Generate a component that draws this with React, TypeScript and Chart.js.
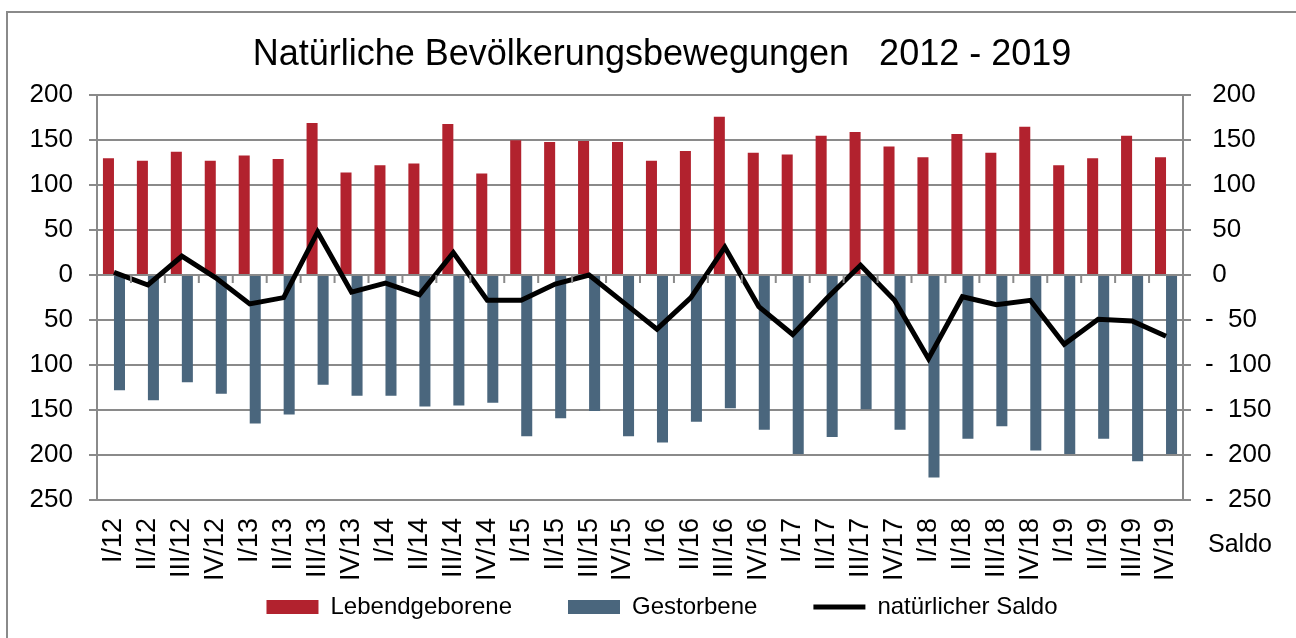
import React, { useEffect, useRef } from "react";
import { Chart, registerables } from "chart.js";

Chart.register(...registerables);

const quarters = ["I", "II", "III", "IV"];
const years = ["12", "13", "14", "15", "16", "17", "18", "19"];
const categories: string[] = [];
for (const y of years) for (const q of quarters) categories.push(`${q}/${y}`);

const lebendgeborene = [130, 127, 137, 127, 133, 129, 169, 114, 122, 124, 168, 113, 150, 148, 149, 148, 127, 138, 176, 136, 134, 155, 159, 143, 131, 157, 136, 165, 122, 130, 155, 131];
const gestorbene = [-128, -139, -119, -132, -165, -155, -122, -134, -134, -146, -145, -142, -179, -159, -151, -179, -186, -163, -148, -172, -199, -180, -149, -172, -225, -182, -168, -195, -199, -182, -207, -199];
const saldo = [3, -11, 21, -3, -32, -25, 48, -19, -9, -22, 25, -28, -28, -10, 0, -30, -60, -25, 31, -35, -66, -26, 11, -28, -93, -24, -33, -28, -77, -49, -51, -68];

const titleText = "Natürliche Bevölkerungsbewegungen   2012 - 2019";
const rightAxisTitle = "Saldo";

const RED = "#B2222E";
const BLUE = "#4A667D";
const GRID = "#8a8a8a";
const FONT = "'Liberation Sans', Arial, sans-serif";

const decorPlugin = {
  id: "decor",
  beforeDraw(chart: any) {
    const ctx = chart.ctx;
    ctx.save();
    ctx.strokeStyle = GRID;
    ctx.lineWidth = 2;
    ctx.beginPath();
    ctx.moveTo(7, chart.height);
    ctx.lineTo(7, 12);
    ctx.lineTo(chart.width, 12);
    ctx.stroke();
    ctx.restore();
  },
  afterDatasetsDraw(chart: any) {
    const ctx = chart.ctx;
    const x = chart.scales.x;
    const y = chart.scales.y;
    const y0 = y.getPixelForValue(0);
    ctx.save();
    ctx.strokeStyle = GRID;
    ctx.lineWidth = 2;
    ctx.beginPath();
    const n = categories.length;
    const w = (x.right - x.left) / n;
    for (let i = 1; i < n; i++) {
      const px = x.getPixelForValue(i) - w / 2;
      ctx.moveTo(px, y0);
      ctx.lineTo(px, y0 + 8);
    }
    ctx.stroke();
    ctx.restore();
  },
  afterDraw(chart: any) {
    const ctx = chart.ctx;
    const y2 = chart.scales.y2;
    ctx.save();
    ctx.fillStyle = "#000";
    ctx.font = `25px ${FONT}`;
    ctx.textAlign = "left";
    ctx.textBaseline = "middle";
    ctx.fillText(rightAxisTitle, y2.left + 25, chart.chartArea.bottom + 45);
    ctx.restore();
  },
};

export default function App() {
  const ref = useRef<HTMLCanvasElement>(null);
  useEffect(() => {
    document.body.style.margin = "0";
    const chart = new Chart(ref.current!, {
      type: "bar",
      data: {
        labels: categories,
        datasets: [
          {
            type: "line",
            label: "natürlicher Saldo",
            data: saldo,
            borderColor: "#000",
            backgroundColor: "#000",
            borderWidth: 5,
            pointRadius: 0,
            tension: 0,
            yAxisID: "y2",
            order: 0,
          } as any,
          {
            label: "Lebendgeborene",
            data: lebendgeborene,
            backgroundColor: RED,
            yAxisID: "y",
            categoryPercentage: 0.65,
            barPercentage: 1,
            order: 1,
          },
          {
            label: "Gestorbene",
            data: gestorbene,
            backgroundColor: BLUE,
            yAxisID: "y",
            categoryPercentage: 0.65,
            barPercentage: 1,
            order: 2,
          },
        ],
      },
      options: {
        animation: false,
        responsive: false,
        layout: { padding: { left: 28, right: 0, top: 0, bottom: 9 } },
        plugins: {
          title: {
            display: true,
            text: titleText,
            color: "#000",
            font: { family: FONT, size: 36, weight: "normal" as any },
            padding: { top: 33, bottom: 19 },
          },
          legend: {
            position: "bottom",
            title: {
              display: true,
              text: "",
              font: { family: FONT, size: 10 },
              padding: { top: 27, bottom: 0 },
            },
            labels: {
              color: "#000",
              font: { family: FONT, size: 24 },
              usePointStyle: true,
              pointStyleWidth: 52,
              boxHeight: 14,
              padding: 56,
              generateLabels: (chart: any) => {
                const order = [1, 2, 0];
                return order.map((i) => {
                  const ds = chart.data.datasets[i];
                  const isLine = ds.type === "line";
                  return {
                    text: ds.label,
                    fillStyle: isLine ? "#000" : ds.backgroundColor,
                    strokeStyle: isLine ? "#000" : ds.backgroundColor,
                    lineWidth: isLine ? 5 : 0,
                    pointStyle: isLine ? "line" : "rect",
                    hidden: false,
                    datasetIndex: i,
                    fontColor: "#000",
                  };
                });
              },
            },
          },
          tooltip: { enabled: false },
        },
        scales: {
          x: {
            axis: "x",
            position: { y: -250 } as any,
            grid: { display: false, drawTicks: false },
            border: { display: false },
            ticks: {
              color: "#000",
              font: { family: FONT, size: 27 },
              minRotation: 90,
              maxRotation: 90,
              autoSkip: false,
              padding: 18,
            },
          } as any,
          y: {
            position: "left",
            min: -250,
            max: 200,
            grid: { color: GRID, lineWidth: 2, tickLength: 8, drawTicks: true },
            border: { display: true, color: GRID, width: 2 },
            ticks: {
              stepSize: 50,
              color: "#000",
              font: { family: FONT, size: 26 },
              padding: 16,
              callback: (v: any) => String(Math.abs(Number(v))),
            },
            afterFit: (s: any) => {
              s.width = 69;
            },
          },
          y2: {
            position: "right",
            min: -250,
            max: 200,
            grid: { drawOnChartArea: false, color: GRID, lineWidth: 2, tickLength: 8, drawTicks: true },
            border: { display: true, color: GRID, width: 2 },
            ticks: {
              stepSize: 50,
              color: "#000",
              font: { family: FONT, size: 26 },
              padding: 14,
              callback: (v: any) => {
                const n = Number(v);
                return n < 0 ? "-  " + Math.abs(n) : " " + n;
              },
            },
            afterFit: (s: any) => {
              s.width = 113;
            },
          },
        },
      },
      plugins: [decorPlugin],
    });
    return () => chart.destroy();
  }, []);
  return (
    <div style={{ width: 1296, height: 638, overflow: "hidden", background: "#fff" }}>
      <canvas ref={ref} width={1296} height={638} style={{ display: "block" }} />
    </div>
  );
}
